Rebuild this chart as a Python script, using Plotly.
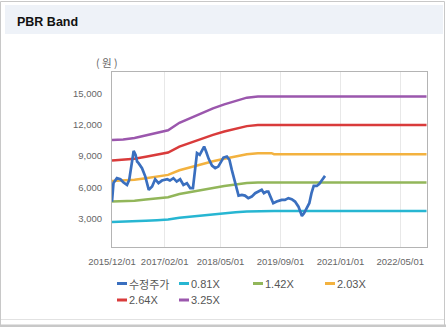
import plotly.graph_objects as go

# ---------------- data ----------------
price_dates = ["2015-12-01","2015-12-13","2016-01-10","2016-02-07","2016-03-04","2016-04-01","2016-04-19",
               "2016-05-10","2016-05-25","2016-06-10","2016-06-22","2016-07-04","2016-08-01","2016-08-28",
               "2016-09-25","2016-10-22","2016-11-16","2016-12-13","2017-01-10","2017-02-22","2017-03-16",
               "2017-04-13","2017-05-10","2017-06-07","2017-07-04","2017-08-01","2017-08-28","2017-09-19",
               "2017-10-07","2017-10-22","2017-11-13","2017-12-01","2017-12-19","2018-01-04","2018-01-25",
               "2018-02-21","2018-03-19","2018-04-13","2018-05-04","2018-05-25","2018-06-22","2018-07-13",
               "2018-08-01","2018-08-28","2018-09-16","2018-09-25","2018-10-22","2018-11-16","2018-12-13",
               "2019-01-10","2019-02-07","2019-03-04","2019-04-01","2019-04-19","2019-05-10","2019-05-25",
               "2019-06-13","2019-07-04","2019-08-01","2019-09-10","2019-10-07","2019-11-04","2019-12-01",
               "2019-12-28","2020-01-25","2020-02-07","2020-02-22","2020-03-10","2020-04-01","2020-04-22",
               "2020-05-10","2020-05-28","2020-06-22","2020-07-13","2020-08-01","2020-08-28"]
price_vals = [4600,6400,6870,6770,6450,6220,6700,
              8320,9500,9120,8480,8320,7840,7020,
              5740,6060,6770,6390,6640,6770,6640,
              6870,6540,6770,6220,6390,5900,5900,
              7510,9290,9120,9610,9930,9440,8740,
              8090,7840,7990,8480,8860,8960,8640,
              7670,6540,5570,5190,5260,5190,4940,
              5090,5420,5570,5740,5420,5570,5570,
              4940,4450,4610,4770,4770,4940,4840,
              4610,4120,3640,3220,3480,3970,4450,
              5420,6120,6120,6320,6640,7090]

band_dates = ["2015-12-01","2016-03-01","2016-06-01","2016-09-01","2016-12-01","2017-03-01","2017-06-01",
              "2017-09-01","2017-12-01","2018-03-01","2018-06-01","2018-09-01","2018-12-01","2019-03-01",
              "2019-06-20","2019-07-10","2022-12-01"]
band_081 = [2640,2660,2690,2750,2810,2880,3050,3170,3290,3400,3500,3580,3660,3690,3690,3690,3690]
band_142 = [4610,4640,4700,4810,4910,5030,5340,5550,5770,5950,6120,6260,6400,6450,6450,6450,6450]
band_203 = [6590,6630,6720,6870,7020,7190,7630,7930,8240,8510,8750,8950,9180,9290,9290,9190,9190]
band_264 = [8570,8620,8740,8940,9130,9350,9920,10320,10720,11060,11380,11640,11900,12000,12000,12000,12000]
band_325 = [10550,10610,10760,11000,11250,11500,12220,12700,13190,13620,14000,14320,14650,14760,14760,14760,14760]

series_names = ["수정주가", "0.81X", "1.42X", "2.03X", "2.64X", "3.25X"]
series_colors = ["#3a6fbf", "#27b6d2", "#92b65a", "#f3b23f", "#d93b3b", "#9b57ad"]

x_tickvals = ["2015-12-01","2017-02-01","2018-05-01","2019-09-01","2021-01-01","2022-05-01"]
y_tickvals = [3000, 6000, 9000, 12000, 15000]

# ---------------- layout helpers (pixel -> paper) ----------------
W, H = 446, 327
L, R, T, B = 112, 427, 72, 247
def px(x):
    return (x - L) / (R - L)
def py(y):
    return (B - y) / (B - T)

fig = go.Figure()
band_lists = [band_081, band_142, band_203, band_264, band_325]
for i, vals in enumerate(band_lists):
    fig.add_trace(go.Scatter(x=band_dates, y=vals, mode="lines", name=series_names[i + 1],
                             line=dict(color=series_colors[i + 1], width=2.5), showlegend=False))
fig.add_trace(go.Scatter(x=price_dates, y=price_vals, mode="lines", name=series_names[0],
                         line=dict(color=series_colors[0], width=2.7), showlegend=False))

shapes = [
    dict(type="rect", xref="paper", yref="paper", x0=px(0.5), x1=px(444.5), y0=py(326), y1=py(1.5),
         line=dict(color="#c8c8c8", width=1), fillcolor="rgba(0,0,0,0)", layer="below"),
    dict(type="rect", xref="paper", yref="paper", x0=px(5), x1=px(443), y0=py(34), y1=py(5),
         line=dict(width=0), fillcolor="#eef2f8", layer="below"),
    dict(type="line", xref="paper", yref="paper", x0=px(1), x1=px(444), y0=py(319.5), y1=py(319.5),
         line=dict(color="#e2e2e2", width=1)),
    dict(type="rect", xref="paper", yref="paper", x0=px(0), x1=px(446), y0=py(327), y1=py(324.5),
         line=dict(width=0), fillcolor="#c8c8c8"),
]

annotations = [
    dict(text="<b>PBR Band</b>", xref="paper", yref="paper", x=px(16), y=py(22), xanchor="left",
         yanchor="middle", showarrow=False, font=dict(family="Liberation Sans, Arial", size=12.5, color="#111"),
         borderpad=0),
    dict(text="( 원 )", xref="paper", yref="paper", x=px(106), y=py(62), xanchor="center", yanchor="middle",
         showarrow=False, font=dict(family="Noto Sans CJK KR", size=10.5, color="#666"), borderpad=0),
]

legend_pos = [(117, 283.5), (179, 283.5), (253, 283.5), (325, 283.5), (117, 300), (179, 300)]
for name, color, (lx, ly) in zip(series_names, series_colors, legend_pos):
    shapes.append(dict(type="line", xref="paper", yref="paper", x0=px(lx), x1=px(lx + 10),
                       y0=py(ly), y1=py(ly), line=dict(color=color, width=3)))
    is_kr = any(ord(c) > 0x3000 for c in name)
    annotations.append(dict(text=name, xref="paper", yref="paper", x=px(lx + 11), y=py(ly),
                            xanchor="left", yanchor="middle", showarrow=False, borderpad=0,
                            font=dict(family="Noto Sans CJK KR" if is_kr else "Liberation Sans, Arial",
                                      size=11, color="#555")))

fig.update_layout(
    width=W, height=H,
    margin=dict(l=L, r=W - R, t=T, b=H - B),
    paper_bgcolor="white", plot_bgcolor="white",
    showlegend=False,
    shapes=shapes, annotations=annotations,
    font=dict(family="Liberation Sans, Arial", size=9.5, color="#666"),
)
fig.update_xaxes(type="date", range=["2015-12-01", "2022-12-05"], tickvals=x_tickvals,
                 tickformat="%Y/%m/%d", showgrid=True, gridcolor="#e8e8e8", gridwidth=1,
                 showline=True, linecolor="#b4b4b4", linewidth=1, mirror=True,
                 ticks="", ticklabelstandoff=6, zeroline=False,
                 tickfont=dict(size=9.5, color="#666"))
fig.update_yaxes(range=[220, 17130], tickvals=y_tickvals, tickformat=",d", showgrid=False,
                 showline=True, linecolor="#b4b4b4", linewidth=1, mirror=True,
                 ticks="", ticklabelstandoff=7, zeroline=False,
                 tickfont=dict(size=9.5, color="#666"))

fig.write_html("out.html")
